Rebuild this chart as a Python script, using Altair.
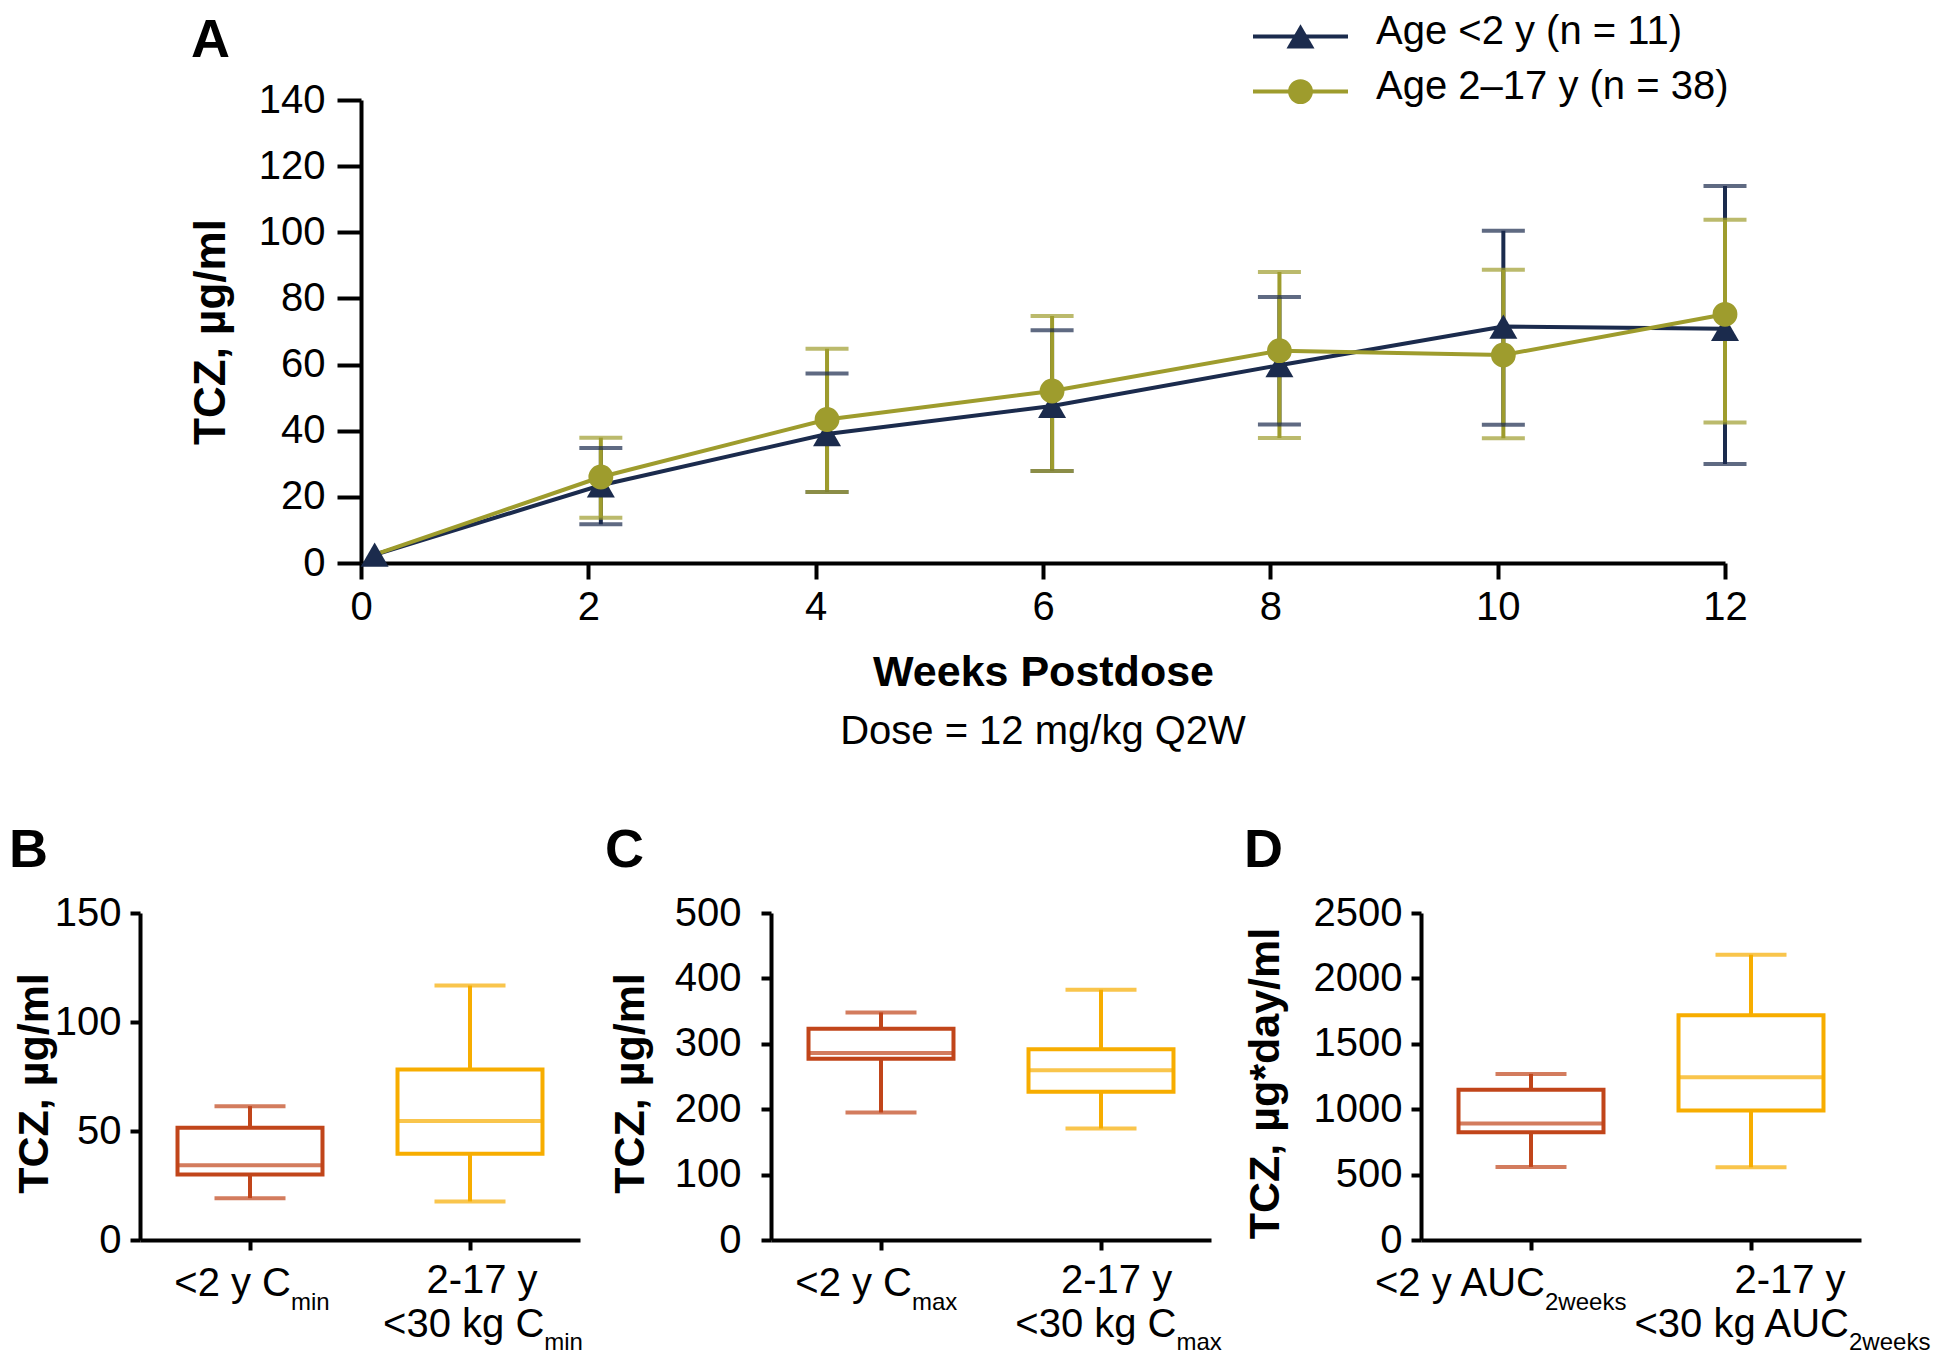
import altair as alt
import pandas as pd

FONT = "Liberation Sans"
NAVY = "#1B2B4D"
OLIVE = "#9E9C2D"
ORANGE = "#C1451A"
GOLD = "#F7AD00"

# ---------------- Panel A data ----------------
weeks = [0.12, 2.11, 4.10, 6.08, 8.08, 10.05, 12.0]
series_a = ["Age <2 y (n = 11)", "Age 2–17 y (n = 38)"]
navy_mean = [2.5, 23.5, 39.0, 47.5, 59.8, 71.5, 70.8]
navy_upper = [None, 34.8, 57.3, 70.4, 80.4, 100.5, 114.0]
navy_lower = [None, 11.7, 21.5, 27.8, 41.9, 41.8, 29.9]
olive_mean = [2.5, 26.0, 43.4, 52.0, 64.2, 62.9, 75.2]
olive_upper = [None, 37.9, 64.8, 74.7, 88.0, 88.7, 103.8]
olive_lower = [None, 13.7, 21.5, 27.8, 37.8, 37.7, 42.5]
week_ticks = [0, 2, 4, 6, 8, 10, 12]
conc_ticks_a = [0, 20, 40, 60, 80, 100, 120, 140]

# ---------------- Panels B-D data ----------------
groups_b = ["<2 y", "2-17 y <30 kg"]
b_min = [19.2, 17.7]; b_q1 = [30.0, 39.6]; b_med = [34.3, 54.6]; b_q3 = [51.5, 78.2]; b_max = [61.4, 116.7]
c_min = [195.0, 170.5]; c_q1 = [277.0, 226.5]; c_med = [286.0, 259.7]; c_q3 = [323.0, 291.8]; c_max = [348.0, 382.7]
d_min = [559.0, 556.0]; d_q1 = [824.0, 990.0]; d_med = [890.0, 1245.0]; d_q3 = [1148.0, 1719.0]; d_max = [1270.0, 2181.0]
b_ticks = [0, 50, 100, 150]
c_ticks = [0, 100, 200, 300, 400, 500]
d_ticks = [0, 500, 1000, 1500, 2000, 2500]
cat1_main = {"B": "<2 y C", "C": "<2 y C", "D": "<2 y AUC"}
cat2_line1 = "2-17 y"
cat2_line2 = {"B": "<30 kg C", "C": "<30 kg C", "D": "<30 kg AUC"}
subs = {"B": "min", "C": "max", "D": "2weeks"}
titles = {"B": "TCZ, µg/ml", "C": "TCZ, µg/ml", "D": "TCZ, µg*day/ml"}

# ---------------- Panel A ----------------
rows = []
for name, means, lows, ups in [(series_a[0], navy_mean, navy_lower, navy_upper),
                               (series_a[1], olive_mean, olive_lower, olive_upper)]:
    for w, m, lo, up in zip(weeks, means, lows, ups):
        rows.append({"series": name, "week": w, "mean": m, "lower": lo, "upper": up})
df_a = pd.DataFrame(rows)

W_A, H_A = 1364, 463
ax_x = alt.Axis(values=week_ticks, title="Weeks Postdose", titleFontSize=43, titleFontWeight="bold",
                titleX=W_A / 2, titleY=122, titleBaseline="alphabetic", titleAlign="center",
                labelFontSize=40, labelPadding=8, tickSize=16, tickWidth=4, domainWidth=4,
                domainColor="black", tickColor="black", labelColor="black", titleColor="black",
                grid=False, labelFlush=False, labelOverlap=False, format="d")
ax_y = alt.Axis(values=conc_ticks_a, title="TCZ, µg/ml", titleFontSize=44, titleFontWeight="bold",
                titleAngle=270, titleX=-137, titleY=H_A / 2, titleBaseline="alphabetic", titleAlign="center",
                labelFontSize=40, labelPadding=12, tickSize=24, tickWidth=4, domainWidth=4,
                domainColor="black", tickColor="black", labelColor="black", titleColor="black",
                grid=False, labelOverlap=False, format="d")
xs = alt.Scale(domain=[0, 12], nice=False, zero=False)
ys = alt.Scale(domain=[0, 140], nice=False)
color_a = alt.Color("series:N", scale=alt.Scale(domain=series_a, range=[NAVY, OLIVE]), legend=None)

base_a = alt.Chart(df_a)
X_A = alt.X("week:Q", scale=xs, axis=ax_x)
rules_a = base_a.mark_rule(strokeWidth=4).encode(
    x=X_A, y=alt.Y("lower:Q", scale=ys, axis=ax_y), y2="upper:Q", color=color_a)
cap_hi = base_a.mark_tick(orient="horizontal", size=43, thickness=4).encode(
    x=X_A, y=alt.Y("upper:Q", scale=ys, axis=ax_y), color=color_a)
cap_lo = base_a.mark_tick(orient="horizontal", size=43, thickness=4).encode(
    x=X_A, y=alt.Y("lower:Q", scale=ys, axis=ax_y), color=color_a)
lines_a = base_a.mark_line(strokeWidth=4).encode(
    x=X_A, y=alt.Y("mean:Q", scale=ys, axis=ax_y), color=color_a)
points_a = base_a.transform_filter(
    f"datum.week > 1 || datum.series == '{series_a[0]}'"
).mark_point(filled=True, opacity=1).encode(
    x=X_A, y=alt.Y("mean:Q", scale=ys, axis=ax_y), color=color_a,
    shape=alt.Shape("series:N", scale=alt.Scale(domain=series_a, range=["triangle-up", "circle"]), legend=None),
    size=alt.Size("series:N", scale=alt.Scale(domain=series_a, range=[784, 616]), legend=None))

legend_layers = []
leg_line_y = [-63.6, -8.4]
leg_text_y = [-55.7, -0.8]
leg_shapes = ["triangle-up", "circle"]
leg_sizes = [784, 616]
leg_colors = [NAVY, OLIVE]
for i, name in enumerate(series_a):
    one = alt.Chart(pd.DataFrame({"label": [name]}))
    legend_layers.append(one.mark_rule(strokeWidth=4, color=leg_colors[i]).encode(
        x=alt.value(892), x2=alt.value(987), y=alt.value(leg_line_y[i])))
    legend_layers.append(one.mark_point(filled=True, opacity=1, shape=leg_shapes[i], size=leg_sizes[i],
                                        color=leg_colors[i]).encode(
        x=alt.value(939.5), y=alt.value(leg_line_y[i])))
    legend_layers.append(one.mark_text(align="left", baseline="alphabetic", fontSize=40, color="black").encode(
        x=alt.value(1015), y=alt.value(leg_text_y[i]), text="label:N"))

one_row = alt.Data(values=[{}])
label_a = alt.Chart(one_row).mark_text(text="A", fontSize=54, fontWeight="bold", align="left",
                                       baseline="alphabetic", color="black").encode(
    x=alt.value(-170), y=alt.value(-43))
subtitle_a = alt.Chart(one_row).mark_text(text="Dose = 12 mg/kg Q2W", fontSize=40, align="center",
                                          baseline="alphabetic", color="black").encode(
    x=alt.value(W_A / 2), y=alt.value(644))

chart_a = alt.layer(rules_a, cap_hi, cap_lo, lines_a, points_a, *legend_layers, label_a, subtitle_a).properties(
    width=W_A, height=H_A)

# ---------------- Panels B-D ----------------
W_B, H_B = 440, 327


def box_panel(letter, mins, q1s, meds, q3s, maxs, ticks, title_x, label_pad, letter_x, anchors):
    df = pd.DataFrame({"group": groups_b, "lo": mins, "q1": q1s, "med": meds, "q3": q3s, "hi": maxs})
    xsc = alt.Scale(type="band", domain=groups_b, paddingInner=0.341, paddingOuter=0.1705)
    X = alt.X("group:N", scale=xsc, sort=groups_b,
              axis=alt.Axis(labels=False, title=None, tickSize=10, tickWidth=4, domainWidth=4,
                            domainColor="black", tickColor="black", grid=False))
    ysc = alt.Scale(domain=[0, ticks[-1]], nice=False)
    ax = alt.Axis(values=ticks, title=titles[letter], titleFontSize=43, titleFontWeight="bold",
                  titleAngle=270, titleX=title_x, titleY=170, titleBaseline="alphabetic", titleAlign="center",
                  labelFontSize=40, labelPadding=label_pad, tickSize=10, tickWidth=4, domainWidth=4,
                  domainColor="black", tickColor="black", labelColor="black", titleColor="black",
                  grid=False, labelOverlap=False, format="d")
    col = alt.Color("group:N", scale=alt.Scale(domain=groups_b, range=[ORANGE, GOLD]), legend=None)
    base = alt.Chart(df)
    box = base.mark_bar(filled=False, strokeWidth=4).encode(
        x=X, y=alt.Y("q1:Q", scale=ysc, axis=ax), y2="q3:Q", color=col)
    med = base.mark_tick(orient="horizontal", size=145, thickness=4).encode(
        x=X, y=alt.Y("med:Q", scale=ysc, axis=ax), color=col)
    whi = base.mark_rule(strokeWidth=4).encode(x=X, y=alt.Y("q3:Q", scale=ysc, axis=ax), y2="hi:Q", color=col)
    wlo = base.mark_rule(strokeWidth=4).encode(x=X, y=alt.Y("lo:Q", scale=ysc, axis=ax), y2="q1:Q", color=col)
    chi = base.mark_tick(orient="horizontal", size=71, thickness=4).encode(
        x=X, y=alt.Y("hi:Q", scale=ysc, axis=ax), color=col)
    clo = base.mark_tick(orient="horizontal", size=71, thickness=4).encode(
        x=X, y=alt.Y("lo:Q", scale=ysc, axis=ax), color=col)

    def txt(group, text, dx, y, size, align):
        return alt.Chart(pd.DataFrame({"group": [group], "t": [text]})).mark_text(
            align=align, baseline="alphabetic", dx=dx, fontSize=size, color="black").encode(
            x=X, y=alt.value(y), text="t:N")

    a1, a2c, a2 = anchors
    texts = [
        txt(groups_b[0], cat1_main[letter], a1, 383, 40, "right"),
        txt(groups_b[0], subs[letter], a1, 397, 24, "left"),
        txt(groups_b[1], cat2_line1, a2c, 380, 40, "center"),
        txt(groups_b[1], cat2_line2[letter], a2, 424, 40, "right"),
        txt(groups_b[1], subs[letter], a2, 437, 24, "left"),
    ]
    lab = alt.Chart(one_row).mark_text(text=letter, fontSize=54, fontWeight="bold", align="left",
                                       baseline="alphabetic", color="black").encode(
        x=alt.value(letter_x), y=alt.value(-46.5))
    return alt.layer(box, whi, wlo, chi, clo, med, *texts, lab).properties(width=W_B, height=H_B)


panel_b = box_panel("B", b_min, b_q1, b_med, b_q3, b_max, b_ticks, -93, 9, -131, (41, 12, 74.3))
panel_c = box_panel("C", c_min, c_q1, c_med, c_q3, c_max, c_ticks, -128, 20, -166, (31, 15.6, 75.5))
panel_d = box_panel("D", d_min, d_q1, d_med, d_q3, d_max, d_ticks, -142.7, 9, -177, (14, 39, 98))

spacer = alt.Chart(one_row).mark_point(opacity=0).properties(width=49, height=10)

top = alt.hconcat(spacer, chart_a, spacing=0)
bottom = alt.hconcat(panel_b, panel_c, panel_d, spacing=22)
chart = alt.vconcat(top, bottom, spacing=71).resolve_scale(color="independent").properties(
    padding={"left": 1, "top": 4, "right": 0, "bottom": 3}
).configure(font=FONT).configure_view(stroke=None)

chart.save("out.html", embed_options={"renderer": "svg", "actions": False})
